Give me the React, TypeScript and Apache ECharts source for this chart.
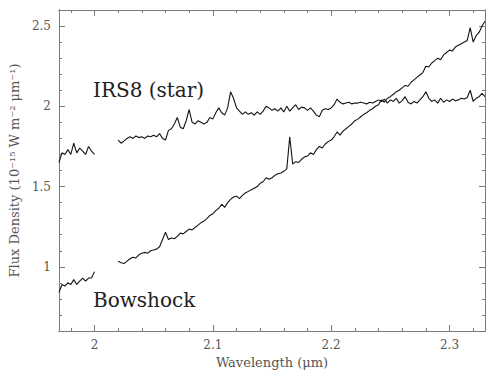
import React, { useEffect, useRef } from "react";
import * as echarts from "echarts";

// Wavelength sampling grid (µm)
const SEG_A_START = 1.97;
const SEG_B_START = 2.02;
const STEP = 0.0025;

// IRS8 (star) spectrum
const starA = [1.65, 1.71, 1.70, 1.73, 1.70, 1.77, 1.71, 1.74, 1.72, 1.70, 1.75, 1.72, 1.70];
const starB = [
  1.79, 1.77, 1.785, 1.80, 1.81, 1.80, 1.815, 1.805, 1.81, 1.80,
  1.815, 1.81, 1.82, 1.81, 1.83, 1.80, 1.79, 1.85, 1.86, 1.89,
  1.93, 1.87, 1.86, 1.91, 1.98, 1.90, 1.89, 1.91, 1.90, 1.89,
  1.90, 1.93, 1.92, 1.96, 1.99, 1.96, 1.945, 1.99, 2.09, 2.05,
  1.99, 1.97, 1.95, 1.965, 1.95, 1.96, 1.945, 1.965, 1.95, 1.97,
  2.00, 1.99, 1.975, 1.985, 1.97, 1.99, 1.965, 2.00, 1.97, 1.99,
  2.01, 1.98, 1.995, 1.99, 1.975, 1.99, 1.97, 1.945, 1.935, 1.975,
  1.985, 1.98, 1.99, 2.01, 2.045, 2.025, 2.015, 2.02, 2.025, 2.015,
  2.02, 2.02, 2.025, 2.02, 2.015, 2.025, 2.02, 2.03, 2.04, 2.03,
  2.045, 2.02, 2.04, 2.03, 2.05, 2.02, 2.035, 2.06, 2.025, 2.015,
  2.03, 2.02, 2.04, 2.06, 2.09, 2.05, 2.03, 2.04, 2.02, 2.05,
  2.025, 2.04, 2.03, 2.045, 2.035, 2.04, 2.05, 2.045, 2.055, 2.10,
  2.03, 2.05, 2.06, 2.08, 2.06,
];

// Bowshock spectrum
const bowA = [0.84, 0.89, 0.88, 0.90, 0.89, 0.92, 0.89, 0.91, 0.93, 0.91, 0.93, 0.93, 0.97];
const bowB = [
  1.035, 1.025, 1.02, 1.035, 1.05, 1.06, 1.055, 1.075, 1.085, 1.09,
  1.085, 1.10, 1.105, 1.11, 1.125, 1.17, 1.215, 1.17, 1.18, 1.175,
  1.19, 1.21, 1.205, 1.22, 1.235, 1.23, 1.245, 1.26, 1.275, 1.285,
  1.30, 1.32, 1.33, 1.35, 1.365, 1.39, 1.37, 1.40, 1.42, 1.435,
  1.44, 1.425, 1.445, 1.46, 1.47, 1.48, 1.49, 1.50, 1.52, 1.53,
  1.555, 1.545, 1.555, 1.57, 1.58, 1.585, 1.595, 1.61, 1.81, 1.64,
  1.655, 1.65, 1.67, 1.685, 1.69, 1.71, 1.70, 1.73, 1.75, 1.74,
  1.765, 1.78, 1.79, 1.81, 1.84, 1.82, 1.845, 1.86, 1.875, 1.89,
  1.91, 1.92, 1.935, 1.95, 1.96, 1.975, 1.985, 2.00, 2.01, 2.04,
  2.025, 2.05, 2.06, 2.075, 2.09, 2.10, 2.115, 2.13, 2.125, 2.15,
  2.165, 2.18, 2.195, 2.21, 2.25, 2.245, 2.27, 2.285, 2.30, 2.29,
  2.32, 2.335, 2.35, 2.345, 2.37, 2.38, 2.39, 2.40, 2.41, 2.49,
  2.40, 2.44, 2.46, 2.50, 2.53,
];

// Axes
const X_MIN = 1.97;
const X_MAX = 2.33;
const Y_MIN = 0.6;
const Y_MAX = 2.6;
const xMajor = [2, 2.1, 2.2, 2.3];
const xMinor = [1.98, 2.02, 2.04, 2.06, 2.08, 2.12, 2.14, 2.16, 2.18, 2.22, 2.24, 2.26, 2.28, 2.32];
const yMajor = [1, 1.5, 2, 2.5];
const yMinor = [0.7, 0.8, 0.9, 1.1, 1.2, 1.3, 1.4, 1.6, 1.7, 1.8, 1.9, 2.1, 2.2, 2.3, 2.4];

const toPairs = (start: number, vals: number[]) =>
  vals.map((v, i) => [+(start + i * STEP).toFixed(4), v]);

const FRAME = "#7a7a7a";
const TEXT = "#555";
const FONT = "DejaVu Serif";

export default function App() {
  const ref = useRef<HTMLDivElement>(null);
  useEffect(() => {
    if (!ref.current) return;
    const chart = echarts.init(ref.current, null, { renderer: "svg" });

    const mkX = (position: "bottom" | "top", ticks: number[], len: number, main: boolean) => ({
      type: "value",
      position,
      min: X_MIN,
      max: X_MAX,
      axisLine: { show: true, lineStyle: { color: FRAME, width: 1 } },
      axisTick: { show: true, inside: true, length: len, customValues: ticks, lineStyle: { color: FRAME } },
      axisLabel: main
        ? { show: true, customValues: xMajor, color: TEXT, fontFamily: FONT, fontSize: 12, margin: 8 }
        : { show: false },
      splitLine: { show: false },
      ...(main
        ? {
            name: "Wavelength (μm)",
            nameLocation: "middle",
            nameGap: 19,
            nameTextStyle: { color: TEXT, fontFamily: FONT, fontSize: 13 },
          }
        : {}),
    });
    const mkY = (position: "left" | "right", ticks: number[], len: number, main: boolean) => ({
      type: "value",
      position,
      min: Y_MIN,
      max: Y_MAX,
      axisLine: { show: true, lineStyle: { color: FRAME, width: 1 } },
      axisTick: { show: true, inside: true, length: len, customValues: ticks, lineStyle: { color: FRAME } },
      axisLabel: main
        ? { show: true, customValues: yMajor, color: TEXT, fontFamily: FONT, fontSize: 12, margin: 8 }
        : { show: false },
      splitLine: { show: false },
      ...(main
        ? {
            name: "Flux Density (10⁻¹⁵ W m⁻² μm⁻¹)",
            nameLocation: "middle",
            nameRotate: 90,
            nameGap: 32,
            nameTextStyle: { color: TEXT, fontFamily: FONT, fontSize: 13 },
          }
        : {}),
    });

    const line = (data: number[][]) => ({
      type: "line",
      data,
      xAxisIndex: 0,
      yAxisIndex: 0,
      showSymbol: false,
      symbol: "none",
      lineStyle: { color: "#151515", width: 1.1 },
      silent: true,
    });

    chart.setOption({
      animation: false,
      backgroundColor: "#fff",
      grid: { left: 57, top: 10, right: 15, bottom: 60 },
      xAxis: [
        mkX("bottom", xMajor, 6, true),
        mkX("bottom", xMinor, 3, false),
        mkX("top", xMajor, 6, false),
        mkX("top", xMinor, 3, false),
      ],
      yAxis: [
        mkY("left", yMajor, 6, true),
        mkY("left", yMinor, 3, false),
        mkY("right", yMajor, 6, false),
        mkY("right", yMinor, 3, false),
      ],
      series: [
        line(toPairs(SEG_A_START, starA)),
        line(toPairs(SEG_B_START, starB)),
        line(toPairs(SEG_A_START, bowA)),
        line(toPairs(SEG_B_START, bowB)),
      ],
      graphic: [
        {
          type: "text",
          x: 93,
          y: 90,
          style: { text: "IRS8 (star)", fill: "#222", font: `20px "${FONT}"`, verticalAlign: "middle" },
        },
        {
          type: "text",
          x: 93,
          y: 300,
          style: { text: "Bowshock", fill: "#222", font: `20px "${FONT}"`, verticalAlign: "middle" },
        },
      ],
    });
    return () => chart.dispose();
  }, []);
  return <div ref={ref} style={{ position: "fixed", left: 0, top: 0, width: 500, height: 391 }} />;
}
